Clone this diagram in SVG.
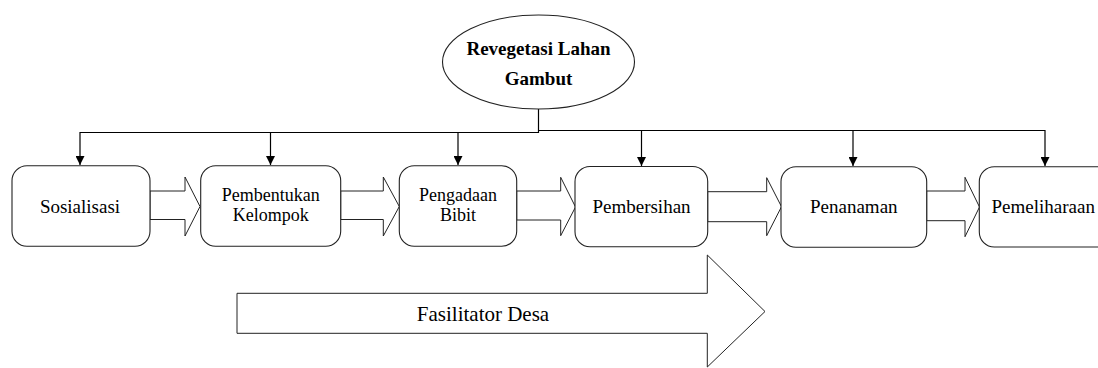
<svg xmlns="http://www.w3.org/2000/svg" width="1098" height="368" viewBox="0 0 1098 368" font-family="'Liberation Serif', 'Times New Roman', serif">
<style>
.box{fill:#fff;stroke:#222;stroke-width:1.1}
.blk{fill:#fff;stroke:#222;stroke-width:1}
.ln{fill:none;stroke:#000;stroke-width:1.2}
.t{font-family:'Liberation Serif','Times New Roman',serif;font-size:19px;fill:#000;text-anchor:middle}
.tb{font-family:'Liberation Serif','Times New Roman',serif;font-size:19px;font-weight:bold;fill:#000;text-anchor:middle}
</style>
<defs>
<marker id="ah" viewBox="0 0 10 10" refX="10" refY="5" markerWidth="11" markerHeight="9" markerUnits="userSpaceOnUse" orient="auto">
<path d="M0,0 L10,5 L0,10 Z" fill="#000"/>
</marker>
</defs>
<rect width="1098" height="368" fill="#fff"/>
<g id="connectors">
<polyline class="ln" points="538.5,109 538.5,132.5 80,132.5 80,165" marker-end="url(#ah)"/>
<line class="ln" x1="270.5" y1="132.5" x2="270.5" y2="165" marker-end="url(#ah)"/>
<line class="ln" x1="458" y1="132.5" x2="458" y2="165" marker-end="url(#ah)"/>
<polyline class="ln" points="538.5,130.5 1045,130.5 1045,166" marker-end="url(#ah)"/>
<line class="ln" x1="641.5" y1="130.5" x2="641.5" y2="166" marker-end="url(#ah)"/>
<line class="ln" x1="853" y1="130.5" x2="853" y2="166" marker-end="url(#ah)"/>
<polygon class="blk" points="150,191 185,191 185,177 200,206.5 185,236 185,219.5 150,219.5"/>
<polygon class="blk" points="340.7,191 383.3,191 383.3,177 399.3,206.5 383.3,236 383.3,219.5 340.7,219.5"/>
<polygon class="blk" points="516.7,191 560.7,191 560.7,177.3 575.5,207 560.7,235.7 560.7,220 516.7,220"/>
<polygon class="blk" points="707.7,191.7 766.7,191.7 766.7,177.7 781.5,206.7 766.7,235.7 766.7,221.7 707.7,221.7"/>
<polygon class="blk" points="926.7,191 965,191 965,177.3 979.5,207 965,236.7 965,220.7 926.7,220.7"/>
</g>
<g id="revegetasi">
<ellipse cx="538.5" cy="62" rx="96" ry="47" fill="#fff" stroke="#222" stroke-width="1.1"/>
<text class="tb" x="538.5" y="55">Revegetasi Lahan</text>
<text class="tb" x="538.5" y="85">Gambut</text>
</g>
<g id="sosialisasi">
<rect class="box" x="12" y="165.7" width="138" height="80.5" rx="15"/>
<text class="t" x="80" y="213">Sosialisasi</text>
</g>
<g id="pembentukan">
<rect class="box" x="200.7" y="165.7" width="140" height="80.5" rx="15"/>
<text class="t" x="270.7" y="200.5" style="font-size:18px">Pembentukan</text>
<text class="t" x="270.7" y="220.5" style="font-size:18px">Kelompok</text>
</g>
<g id="pengadaan">
<rect class="box" x="399.3" y="165.7" width="117.4" height="80.5" rx="15"/>
<text class="t" x="458" y="200.5" style="font-size:18px">Pengadaan</text>
<text class="t" x="458" y="220.5" style="font-size:18px">Bibit</text>
</g>
<g id="pembersihan">
<rect class="box" x="575" y="166.5" width="132.7" height="80.2" rx="15"/>
<text class="t" x="641.5" y="213.3">Pembersihan</text>
</g>
<g id="penanaman">
<rect class="box" x="781" y="166.7" width="145.7" height="80.6" rx="15"/>
<text class="t" x="853.8" y="213">Penanaman</text>
</g>
<g id="pemeliharaan">
<rect class="box" x="979.3" y="166.7" width="140" height="80.3" rx="15"/>
<text class="t" x="991.5" y="213" style="text-anchor:start">Pemeliharaan</text>
</g>
<g id="fasilitator">
<polygon class="blk" points="237,293.3 707.3,293.3 707.3,255 765,311.5 707.3,367 707.3,333.3 237,333.3"/>
<text class="t" x="483" y="321" style="font-size:21px">Fasilitator Desa</text>
</g>
</svg>
